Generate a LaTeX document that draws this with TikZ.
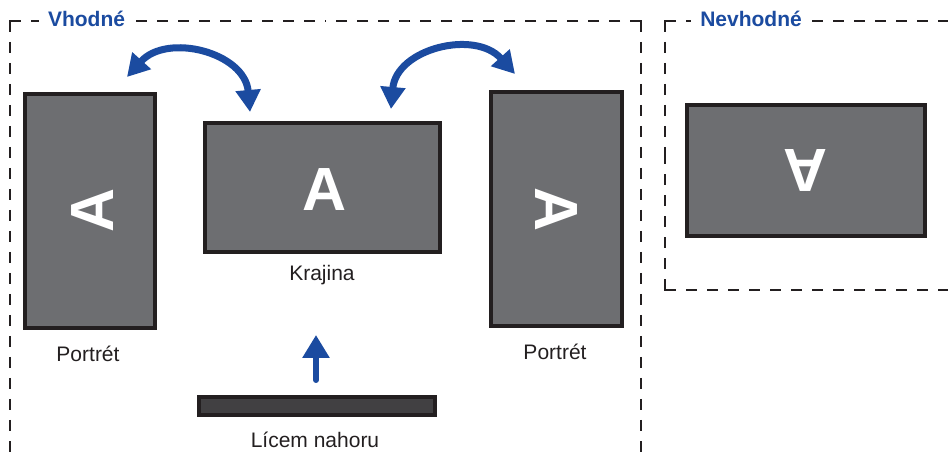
\documentclass[tikz,border=0pt]{standalone}
\usepackage{fontspec}
\setmainfont{Liberation Sans}
\usetikzlibrary{arrows.meta}
\definecolor{frame}{HTML}{231F20}
\definecolor{screen}{HTML}{6D6E71}
\definecolor{barfill}{HTML}{414042}
\definecolor{accent}{HTML}{1B4BA0}
\begin{document}
\begin{tikzpicture}[x=1pt,y=1pt,
  zone/.style={draw=frame, line width=2.8pt, dash pattern=on 11pt off 10pt},
  corner/.style={draw=frame, line width=2.8pt},
  zonelabel/.style={fill=white, text=accent, font=\fontsize{21}{24}\selectfont\bfseries, inner xsep=9pt, inner ysep=2pt, anchor=base},
  display/.style={draw=frame, fill=screen, line width=4pt, inner sep=0pt},
  glyph/.style={text=white, font=\fontsize{61}{61}\selectfont\bfseries, inner sep=0pt},
  caption/.style={text=frame, font=\fontsize{21}{24}\selectfont, anchor=base},
  turn/.style={draw=accent, line width=7pt, {Triangle[width=24pt,length=22pt]}-{Triangle[width=24pt,length=22pt]}},
  push/.style={draw=accent, line width=6pt, line cap=round, -{Triangle[width=26pt,length=23pt]}}
]
\useasboundingbox (0,0) rectangle (948,458);
\clip (0,0) rectangle (948,458);

% zone corners
\coordinate (g1) at (10,437);
\coordinate (g2) at (641,437);
\coordinate (b1) at (665,437);
\coordinate (b2) at (665,168);
% zones: each side drawn from its corner
\draw[zone] (g1) -- (10,-10);
\draw[zone] (g1) -- (326,437);
\draw[zone] (g2) -- (326,437);
\draw[zone] (g2) -- (641,-10);
\draw[zone] (b1) -- (665,302);
\draw[zone] (b2) -- (665,302);
\draw[zone] (b1) -- (955,437);
\draw[zone] (b2) -- (955,168);
\draw[corner] (10,428) -- (g1) -- (18,437);
\draw[corner] (633,437) -- (g2) -- (641,428);
\draw[corner] (665,428) -- (b1) -- (673,437);
\draw[corner] (665,177) -- (b2) -- (673,168);
\node[zonelabel] (lgood) at (86.5,431) {Vhodné};
\node[zonelabel] (lbad) at (751,431) {Nevhodné};

% displays
\node[display, minimum width=130pt, minimum height=234pt] (pl) at (90,247) {};
\node[display, minimum width=131pt, minimum height=234pt] (pr) at (556.5,249) {};
\node[display, minimum width=235pt, minimum height=129pt] (land) at (322.5,270.5) {};
\node[display, minimum width=238pt, minimum height=131pt] (bad) at (806,287.5) {};
\node[draw=frame, fill=barfill, line width=3.5pt, minimum width=236pt, minimum height=18pt, inner sep=0pt] (face) at (317,52) {};

% glyphs
\node[glyph, rotate=90] (gl) at (93,248) {A};
\node[glyph, rotate=-90] (gr) at (556,248) {A};
\node[glyph] (gland) at (325,268) {A};
\node[glyph, rotate=180] (gbad) at (805,288) {A};

% captions
\node[caption] (cpl) at (88,96) {Portrét};
\node[caption] (cpr) at (555,98) {Portrét};
\node[caption] (cland) at (322,177) {Krajina};
\node[caption] (cface) at (315,10) {Lícem nahoru};

% arrows
\coordinate (l1) at (127,381);
\coordinate (l2) at (250,346);
\draw[turn] (l1) to[out=48,in=95,looseness=1.2] (l2);
\coordinate (r1) at (391,349);
\coordinate (r2) at (515,384);
\draw[turn] (r1) to[out=85,in=132,looseness=1.2] (r2);
\coordinate (u1) at (316,78);
\coordinate (u2) at (316,123);
\draw[push] (u1) -- (u2);
\end{tikzpicture}
\end{document}
